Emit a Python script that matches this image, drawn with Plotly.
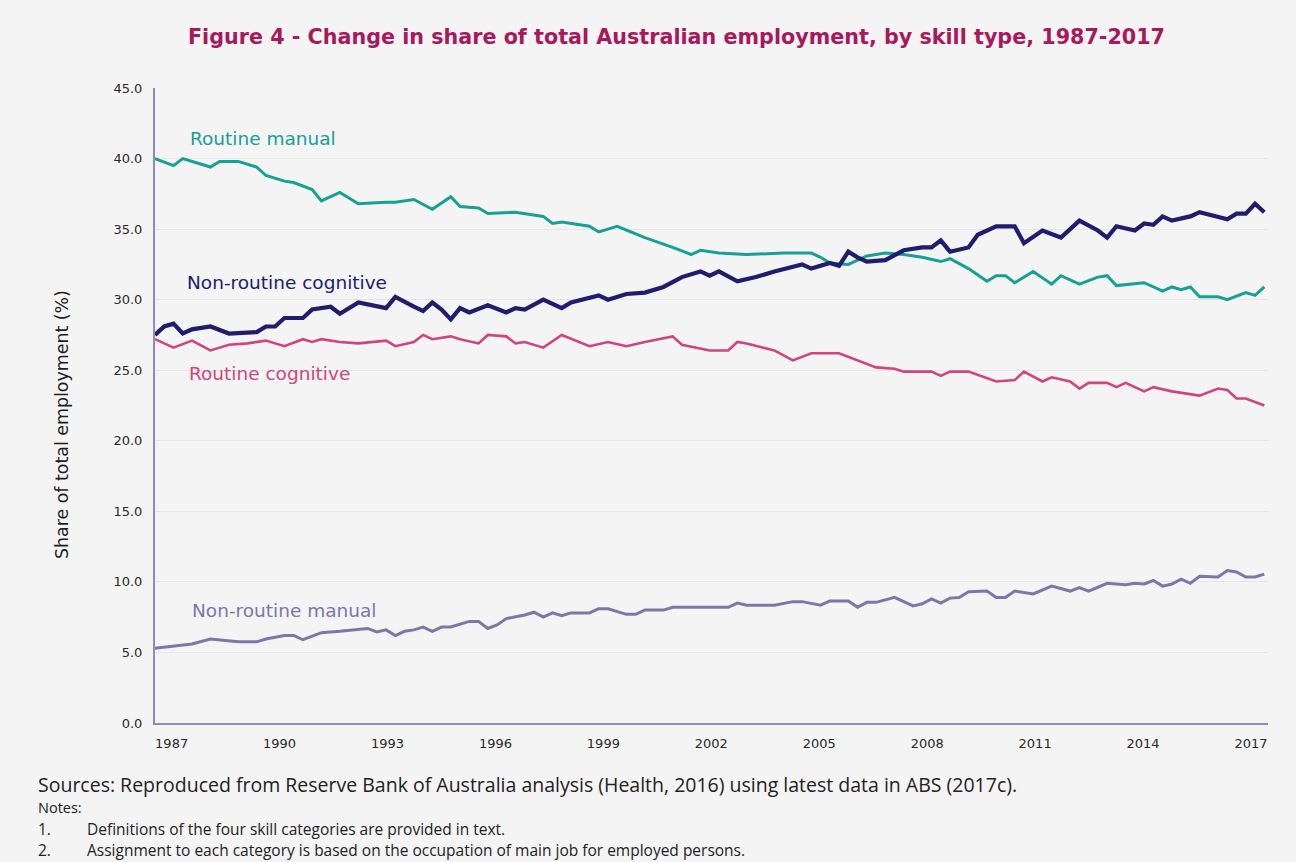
import plotly.graph_objects as go

# Share of total employment (%) by skill type, quarterly observations (decimal years)
rm_years = [1987.0, 1987.5, 1987.75, 1988.5, 1988.75, 1989.25, 1989.75, 1990.0, 1990.5, 1990.75,
            1991.25, 1991.5, 1992.0, 1992.5, 1993.25, 1993.5, 1994.0, 1994.5, 1995.0, 1995.25,
            1995.75, 1996.0, 1996.75, 1997.5, 1997.75, 1998.0, 1998.75, 1999.0, 1999.5, 2000.25,
            2001.0, 2001.5, 2001.75, 2002.25, 2003.0, 2004.0, 2004.75, 2005.0, 2005.25, 2005.75,
            2006.25, 2006.75, 2007.25, 2007.75, 2008.25, 2008.5, 2009.0, 2009.5, 2009.75, 2010.0,
            2010.25, 2010.75, 2011.25, 2011.5, 2012.0, 2012.5, 2012.75, 2013.0, 2013.75, 2014.25,
            2014.5, 2014.75, 2015.0, 2015.25, 2015.75, 2016.0, 2016.5, 2016.75, 2017.0]
routine_manual = [40.0, 39.5, 40.0, 39.4, 39.8, 39.8, 39.4, 38.8, 38.4, 38.3,
                  37.8, 37.0, 37.6, 36.8, 36.9, 36.9, 37.1, 36.4, 37.3, 36.6,
                  36.5, 36.1, 36.2, 35.9, 35.4, 35.5, 35.2, 34.8, 35.2, 34.4,
                  33.7, 33.2, 33.5, 33.3, 33.2, 33.3, 33.3, 33.0, 32.6, 32.5,
                  33.1, 33.3, 33.2, 33.0, 32.7, 32.9, 32.2, 31.3, 31.7, 31.7,
                  31.2, 32.0, 31.1, 31.7, 31.1, 31.6, 31.7, 31.0, 31.2, 30.6,
                  30.9, 30.7, 30.9, 30.2, 30.2, 30.0, 30.5, 30.3, 30.9]

nrc_years = [1987.0, 1987.25, 1987.5, 1987.75, 1988.0, 1988.5, 1989.0, 1989.75, 1990.0, 1990.25,
             1990.5, 1991.0, 1991.25, 1991.75, 1992.0, 1992.5, 1993.25, 1993.5, 1994.0, 1994.25,
             1994.5, 1994.75, 1995.0, 1995.25, 1995.5, 1996.0, 1996.5, 1996.75, 1997.0, 1997.5,
             1998.0, 1998.25, 1999.0, 1999.25, 1999.75, 2000.25, 2000.75, 2001.25, 2001.75, 2002.0,
             2002.25, 2002.75, 2003.25, 2003.75, 2004.5, 2004.75, 2005.25, 2005.5, 2005.75, 2006.0,
             2006.25, 2006.75, 2007.25, 2007.75, 2008.0, 2008.25, 2008.5, 2009.0, 2009.25, 2009.75,
             2010.25, 2010.5, 2011.0, 2011.5, 2012.0, 2012.5, 2012.75, 2013.0, 2013.5, 2013.75,
             2014.0, 2014.25, 2014.5, 2015.0, 2015.25, 2016.0, 2016.25, 2016.5, 2016.75, 2017.0]
non_routine_cognitive = [27.5, 28.1, 28.3, 27.6, 27.9, 28.1, 27.6, 27.7, 28.1, 28.1,
                         28.7, 28.7, 29.3, 29.5, 29.0, 29.8, 29.4, 30.2, 29.5, 29.2,
                         29.8, 29.3, 28.6, 29.4, 29.1, 29.6, 29.1, 29.4, 29.3, 30.0,
                         29.4, 29.8, 30.3, 30.0, 30.4, 30.5, 30.9, 31.6, 32.0, 31.7,
                         32.0, 31.3, 31.6, 32.0, 32.5, 32.2, 32.6, 32.4, 33.4, 33.0,
                         32.7, 32.8, 33.5, 33.7, 33.7, 34.2, 33.4, 33.7, 34.6, 35.2,
                         35.2, 34.0, 34.9, 34.4, 35.6, 34.9, 34.4, 35.2, 34.9, 35.4,
                         35.3, 35.9, 35.6, 35.9, 36.2, 35.7, 36.1, 36.1, 36.8, 36.2]

rc_years = [1987.0, 1987.5, 1988.0, 1988.5, 1989.0, 1989.5, 1990.0, 1990.5, 1991.0, 1991.25,
            1991.5, 1992.0, 1992.5, 1993.25, 1993.5, 1994.0, 1994.25, 1994.5, 1995.0, 1995.25,
            1995.75, 1996.0, 1996.5, 1996.75, 1997.0, 1997.5, 1998.0, 1998.75, 1999.25, 1999.75,
            2000.25, 2001.0, 2001.25, 2002.0, 2002.5, 2002.75, 2003.0, 2003.75, 2004.25, 2004.75,
            2005.5, 2006.0, 2006.5, 2007.0, 2007.25, 2008.0, 2008.25, 2008.5, 2009.0, 2009.75,
            2010.25, 2010.5, 2011.0, 2011.25, 2011.75, 2012.0, 2012.25, 2012.75, 2013.0, 2013.25,
            2013.75, 2014.0, 2014.5, 2015.25, 2015.75, 2016.0, 2016.25, 2016.5, 2017.0]
routine_cognitive = [27.2, 26.6, 27.1, 26.4, 26.8, 26.9, 27.1, 26.7, 27.2, 27.0,
                     27.2, 27.0, 26.9, 27.1, 26.7, 27.0, 27.5, 27.2, 27.4, 27.2,
                     26.9, 27.5, 27.4, 26.9, 27.0, 26.6, 27.5, 26.7, 27.0, 26.7,
                     27.0, 27.4, 26.8, 26.4, 26.4, 27.0, 26.9, 26.4, 25.7, 26.2,
                     26.2, 25.7, 25.2, 25.1, 24.9, 24.9, 24.6, 24.9, 24.9, 24.2,
                     24.3, 24.9, 24.2, 24.5, 24.2, 23.7, 24.1, 24.1, 23.8, 24.1,
                     23.5, 23.8, 23.5, 23.2, 23.7, 23.6, 23.0, 23.0, 22.5]

nrm_years = [1987.0, 1988.0, 1988.5, 1989.25, 1989.75, 1990.0, 1990.5, 1990.75, 1991.0, 1991.5,
             1992.0, 1992.75, 1993.0, 1993.25, 1993.5, 1993.75, 1994.0, 1994.25, 1994.5, 1994.75,
             1995.0, 1995.5, 1995.75, 1996.0, 1996.25, 1996.5, 1997.0, 1997.25, 1997.5, 1997.75,
             1998.0, 1998.25, 1998.75, 1999.0, 1999.25, 1999.75, 2000.0, 2000.25, 2000.75, 2001.0,
             2001.75, 2002.5, 2002.75, 2003.0, 2003.75, 2004.25, 2004.5, 2005.0, 2005.25, 2005.75,
             2006.0, 2006.25, 2006.5, 2007.0, 2007.5, 2007.75, 2008.0, 2008.25, 2008.5, 2008.75,
             2009.0, 2009.5, 2009.75, 2010.0, 2010.25, 2010.75, 2011.25, 2011.75, 2012.0, 2012.25,
             2012.75, 2013.25, 2013.5, 2013.75, 2014.0, 2014.25, 2014.5, 2014.75, 2015.0, 2015.25,
             2015.75, 2016.0, 2016.25, 2016.5, 2016.75, 2017.0]
non_routine_manual = [5.3, 5.6, 5.95, 5.75, 5.75, 5.95, 6.2, 6.2, 5.9, 6.4,
                      6.5, 6.7, 6.45, 6.6, 6.2, 6.5, 6.6, 6.8, 6.5, 6.8,
                      6.8, 7.2, 7.2, 6.7, 6.95, 7.4, 7.65, 7.85, 7.5, 7.8,
                      7.6, 7.8, 7.8, 8.1, 8.1, 7.7, 7.7, 8.0, 8.0, 8.2,
                      8.2, 8.2, 8.5, 8.35, 8.35, 8.6, 8.6, 8.35, 8.65, 8.65,
                      8.2, 8.55, 8.55, 8.9, 8.3, 8.45, 8.8, 8.5, 8.85, 8.9,
                      9.3, 9.35, 8.9, 8.9, 9.35, 9.15, 9.7, 9.35, 9.6, 9.35,
                      9.9, 9.8, 9.9, 9.85, 10.1, 9.7, 9.85, 10.2, 9.9, 10.4,
                      10.35, 10.8, 10.7, 10.35, 10.35, 10.55]

tick_years = [1987, 1990, 1993, 1996, 1999, 2002, 2005, 2008, 2011, 2014, 2017]
y_ticks = [0, 5, 10, 15, 20, 25, 30, 35, 40, 45]

TEAL = "#17a096"
NAVY = "#201c6e"
PINK = "#d0457d"
LAVENDER = "#7c77a9"
AXIS = "#8f8bb8"
TITLE = "#a8185c"
WIDE = "DejaVu Sans"
TEXT = "Open Sans"

W, H = 1296, 862
M_L, M_R, M_T, M_B = 155, 28, 88, 139

fig = go.Figure()
series = [
    (rm_years, routine_manual, "Routine manual", TEAL, 3.0),
    (nrc_years, non_routine_cognitive, "Non-routine cognitive", NAVY, 4.2),
    (rc_years, routine_cognitive, "Routine cognitive", PINK, 2.6),
    (nrm_years, non_routine_manual, "Non-routine manual", LAVENDER, 3.0),
]
for xs, ys, name, color, width in series:
    fig.add_trace(go.Scatter(x=xs, y=ys, name=name, mode="lines",
                             line=dict(color=color, width=width), showlegend=False))

# Inline series labels
labels = [
    ("Routine manual", 1987.89, 41.4, TEAL),
    ("Non-routine cognitive", 1987.81, 31.2, NAVY),
    ("Routine cognitive", 1987.86, 24.75, PINK),
    ("Non-routine manual", 1987.94, 7.95, LAVENDER),
]
for text, x, y, color in labels:
    fig.add_annotation(x=x, y=y, text=text, showarrow=False, xanchor="left", yanchor="middle",
                       font=dict(family=WIDE, size=18.5, color=color))

# Year labels sit slightly inside the ends of the time span
tick_pos = [1987.45 + (yr - 1987) * 0.973 for yr in tick_years]

fig.update_layout(
    width=W, height=H,
    margin=dict(l=M_L, r=M_R, t=M_T, b=M_B),
    paper_bgcolor="#f4f4f4", plot_bgcolor="#f4f4f4",
    title=dict(text="Figure 4 - Change in share of total Australian employment, by skill type, 1987-2017",
               x=0.522, xanchor="center", y=0.957, yanchor="middle",
               font=dict(family=WIDE, size=20.7, color=TITLE, weight=700)),
    xaxis=dict(range=[1987, 2017.1], tickvals=tick_pos, ticktext=[str(y) for y in tick_years],
               showgrid=False, zeroline=False, showline=True, linecolor=AXIS, linewidth=2,
               ticks="", tickfont=dict(family=WIDE, size=13, color="#2a2a2a"),
               ticklabelstandoff=7),
    yaxis=dict(range=[0, 45], tickvals=y_ticks, ticktext=[f"{v:.1f}" for v in y_ticks],
               showgrid=True, gridcolor="#e6e6e6", gridwidth=1, zeroline=False,
               showline=True, linecolor=AXIS, linewidth=2, ticks="",
               tickfont=dict(family=WIDE, size=13, color="#2a2a2a"),
               ticklabelstandoff=8),
)


def to_paper(px, py):
    """Convert a pixel position on the page into paper coordinates."""
    return (px - M_L) / (W - M_L - M_R), (H - M_B - py) / (H - M_T - M_B)


# Vertical axis title
tx, ty = to_paper(62, 425)
fig.add_annotation(x=tx, y=ty, xref="paper", yref="paper", text="Share of total employment (%)",
                   textangle=-90, showarrow=False, xanchor="center", yanchor="middle",
                   font=dict(family=WIDE, size=17.4, color="#1e1e1e"))

# Source and notes beneath the chart
notes = [
    ("Sources: Reproduced from Reserve Bank of Australia analysis (Health, 2016) using latest data in ABS (2017c).", 37, 784, 19.5),
    ("Notes:", 37, 807, 14.5),
    ("1.", 37, 829, 15.5),
    ("Definitions of the four skill categories are provided in text.", 86, 829, 15.5),
    ("2.", 37, 850, 15.5),
    ("Assignment to each category is based on the occupation of main job for employed persons.", 86, 850, 15.5),
]
for text, px, py, size in notes:
    nx, ny = to_paper(px, py)
    fig.add_annotation(x=nx, y=ny, xref="paper", yref="paper", text=text,
                       showarrow=False, xanchor="left", yanchor="middle", borderpad=0,
                       font=dict(family=TEXT, size=size, color="#222222"))

fig.write_html("out.html")
